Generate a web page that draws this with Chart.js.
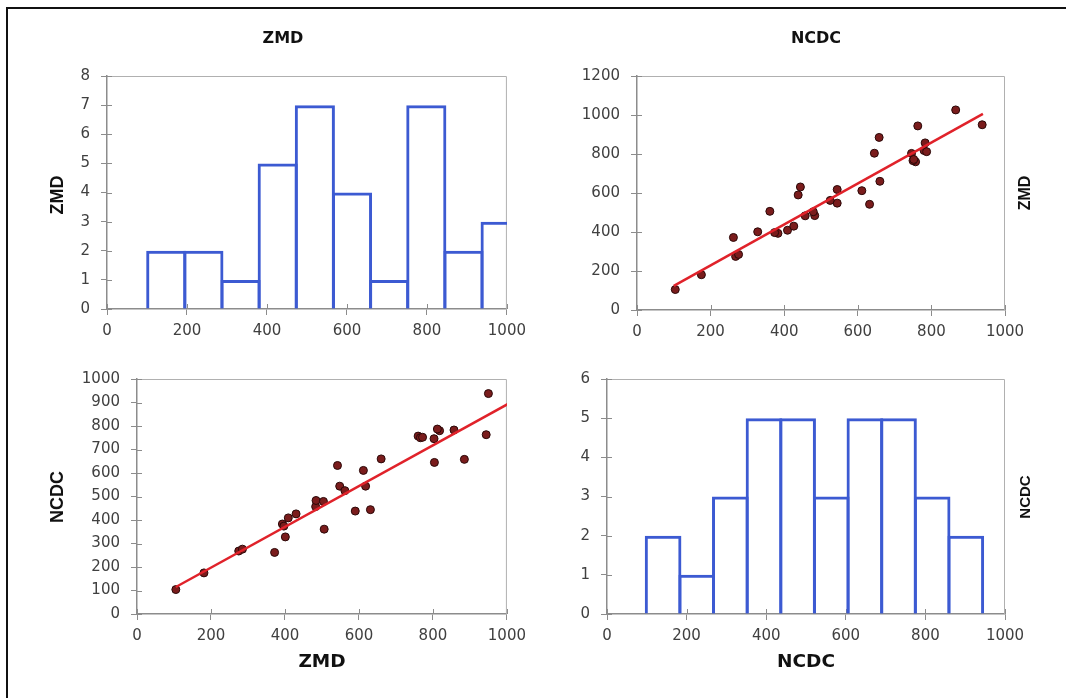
<!DOCTYPE html>
<html>
<head>
<meta charset="utf-8">
<title>ZMD / NCDC</title>
<script src="https://cdn.jsdelivr.net/npm/chart.js@4/dist/chart.umd.min.js"></script>
<style>
    html, body { margin: 0; padding: 0; background: #fff; }
    #page { position: relative; width: 1066px; height: 698px; overflow: hidden; background: #fff; }
    #frame { position: absolute; left: 6px; top: 7px; width: 1100px; height: 720px; border: 2px solid #111; }
    canvas { position: absolute; }
</style>
</head>
<body>
<div id="page">
    <div id="frame"></div>
    <canvas id="histZmd" width="533" height="349" style="left:0;top:0"></canvas>
    <canvas id="scatterTop" width="533" height="349" style="left:533px;top:0"></canvas>
    <canvas id="scatterBottom" width="533" height="349" style="left:0;top:349px"></canvas>
    <canvas id="histNcdc" width="533" height="349" style="left:533px;top:349px"></canvas>
</div>
<script>
// paired station values (same order in both arrays)
const zmd  = [105, 181, 275, 285, 372, 393, 397, 401, 409, 430, 483, 484, 504, 506, 542, 548, 562,
              590, 631, 612, 618, 660, 804, 885, 950, 944, 1026, 857, 818, 812, 760, 766, 803, 772];
const ncdc = [104, 175, 268, 276, 262, 383, 374, 328, 409, 426, 457, 483, 479, 361, 632, 544, 525,
              438, 444, 611, 544, 660, 645, 658, 938, 763, 866, 783, 780, 787, 757, 750, 746, 752];

// histogram bins
const zmdBinEdges  = [101.7, 194.6, 287.5, 380.4, 473.3, 566.2, 659.1, 752, 844.9, 937.8, 1030.7];
const zmdCounts    = [2, 2, 1, 5, 7, 4, 1, 7, 2, 3];
const ncdcBinEdges = [98.7, 183.2, 267.7, 352.2, 436.7, 521.2, 605.7, 690.2, 774.7, 859.2, 943.7];
const ncdcCounts   = [2, 1, 3, 5, 5, 3, 5, 5, 3, 2];

// trend line end points
const trendNcdcOnZmdX = [105, 1026];   // bottom-left: NCDC vs ZMD
const trendNcdcOnZmdY = [115, 914];
const trendZmdOnNcdcX = [100, 940];    // top-right: ZMD vs NCDC
const trendZmdOnNcdcY = [124, 1006];

const AXIS_COLOR = '#8c8c8c';
const LABEL_COLOR = '#404040';
const BAR_BLUE = '#3c5ad2';

Chart.defaults.font.family = "'DejaVu Sans', sans-serif";
Chart.defaults.font.size = 15;
Chart.defaults.color = LABEL_COLOR;

// plot frame, inner half of the cross tick marks, and the panel titles
const panelDecor = {
    id: 'panelDecor',
    beforeDatasetsDraw(chart) {
        const ctx = chart.ctx;
        const a = chart.chartArea;
        ctx.save();
        ctx.strokeStyle = '#b0b0b0';
        ctx.lineWidth = 1;
        ctx.beginPath();
        ctx.moveTo(a.left, a.top + 0.5);
        ctx.lineTo(a.right - 0.5, a.top + 0.5);
        ctx.lineTo(a.right - 0.5, a.bottom);
        ctx.stroke();

        const xs = chart.scales.x, ys = chart.scales.y;
        ctx.strokeStyle = AXIS_COLOR;
        ctx.beginPath();
        xs.ticks.forEach(t => {
            const px = Math.round(xs.getPixelForValue(t.value)) + 0.5;
            ctx.moveTo(px, a.bottom);
            ctx.lineTo(px, a.bottom - 5);
        });
        ys.ticks.forEach(t => {
            const py = Math.round(ys.getPixelForValue(t.value)) + 0.5;
            ctx.moveTo(a.left, py);
            ctx.lineTo(a.left + 5, py);
        });
        ctx.stroke();
        ctx.restore();
    },
    afterDraw(chart, args, opts) {
        const ctx = chart.ctx;
        (opts.texts || []).forEach(t => {
            ctx.save();
            ctx.translate(t.x, t.y);
            if (t.rot) ctx.rotate(t.rot);
            ctx.font = t.font;
            ctx.fillStyle = '#111';
            ctx.textAlign = 'center';
            ctx.textBaseline = 'middle';
            ctx.fillText(t.text, 0, 0);
            ctx.restore();
        });
    }
};

function axis(min, max, step, size, isX) {
    return {
        type: 'linear',
        min: min,
        max: max,
        offset: false,
        ticks: {
            stepSize: step,
            padding: isX ? 7 : 11,
            color: LABEL_COLOR,
            font: { size: 15 },
            callback: value => String(value)   // no thousands separator
        },
        grid: { drawOnChartArea: false, drawTicks: true, tickLength: 6, tickColor: AXIS_COLOR, offset: false },
        border: { color: AXIS_COLOR, width: 1.5 },
        afterFit: function(scale) {
            if (isX) { scale.height = size; } else { scale.width = size; }
        }
    };
}

function binCentres(edges) {
    return edges.slice(0, -1).map((e, i) => (e + edges[i + 1]) / 2);
}

function histogram(id, edges, counts, yMax, box, barPct, texts) {
    const data = binCentres(edges).map((c, i) => ({ x: c, y: counts[i] }));
    return new Chart(document.getElementById(id), {
        type: 'bar',
        data: {
            datasets: [{
                data: data,
                backgroundColor: 'rgba(255,255,255,0)',
                borderColor: BAR_BLUE,
                borderWidth: 3,
                borderSkipped: 'start',
                inflateAmount: 0,
                barPercentage: barPct,
                categoryPercentage: 1,
                clip: 0
            }]
        },
        options: {
            responsive: false,
            animation: false,
            devicePixelRatio: 1,
            layout: { padding: { left: 0, top: box.top, right: box.right, bottom: 0 } },
            plugins: { legend: { display: false }, tooltip: { enabled: false }, panelDecor: { texts: texts } },
            scales: {
                x: axis(0, 1000, 200, box.xHeight, true),
                y: axis(0, yMax, 1, box.yWidth, false)
            }
        },
        plugins: [panelDecor]
    });
}

function scatter(id, xs, ys, trendX, trendY, yMax, yStep, box, texts) {
    return new Chart(document.getElementById(id), {
        type: 'scatter',
        data: {
            datasets: [
                {
                    data: trendX.map((x, i) => ({ x: x, y: trendY[i] })),
                    showLine: true,
                    borderColor: '#e0222a',
                    borderWidth: 2.5,
                    pointRadius: 0,
                    clip: 0
                },
                {
                    data: xs.map((x, i) => ({ x: x, y: ys[i] })),
                    pointRadius: 4,
                    pointBackgroundColor: '#7a1c1c',
                    pointBorderColor: '#2a0808',
                    pointBorderWidth: 1,
                    clip: 0
                }
            ]
        },
        options: {
            responsive: false,
            animation: false,
            devicePixelRatio: 1,
            layout: { padding: { left: 0, top: box.top, right: box.right, bottom: 0 } },
            plugins: { legend: { display: false }, tooltip: { enabled: false }, panelDecor: { texts: texts } },
            scales: {
                x: axis(0, 1000, 200, box.xHeight, true),
                y: axis(0, yMax, yStep, box.yWidth, false)
            }
        },
        plugins: [panelDecor]
    });
}

const UP = -Math.PI / 2;
const topFont = "bold 16px 'DejaVu Sans'";
const bottomFont = "bold 18.5px 'DejaVu Sans'";
const sideFont = "bold 18px 'Liberation Sans'";

// top-left: histogram of ZMD
histogram('histZmd', zmdBinEdges, zmdCounts, 8,
    { top: 76, right: 26, xHeight: 40, yWidth: 107 }, 1.08,
    [
        { text: 'ZMD', x: 283, y: 38.5, font: topFont },
        { text: 'ZMD', x: 58, y: 195, rot: UP, font: sideFont }
    ]);

// top-right: ZMD against NCDC
scatter('scatterTop', ncdc, zmd, trendZmdOnNcdcX, trendZmdOnNcdcY, 1200, 200,
    { top: 76, right: 61, xHeight: 39, yWidth: 104 },
    [
        { text: 'NCDC', x: 283, y: 38.5, font: topFont },
        { text: 'ZMD', x: 493, y: 193, rot: UP, font: "bold 16px 'Liberation Sans'" }
    ]);

// bottom-left: NCDC against ZMD
scatter('scatterBottom', zmd, ncdc, trendNcdcOnZmdX, trendNcdcOnZmdY, 1000, 100,
    { top: 30, right: 26, xHeight: 84, yWidth: 137 },
    [
        { text: 'NCDC', x: 58, y: 148, rot: UP, font: sideFont },
        { text: 'ZMD', x: 322, y: 313, font: bottomFont }
    ]);

// bottom-right: histogram of NCDC
histogram('histNcdc', ncdcBinEdges, ncdcCounts, 6,
    { top: 30, right: 61, xHeight: 84, yWidth: 74 }, 1.09,
    [
        { text: 'NCDC', x: 273, y: 313, font: bottomFont },
        { text: 'NCDC', x: 492.5, y: 148, rot: UP, font: "bold 15px 'Liberation Sans'" }
    ]);
</script>
</body>
</html>
